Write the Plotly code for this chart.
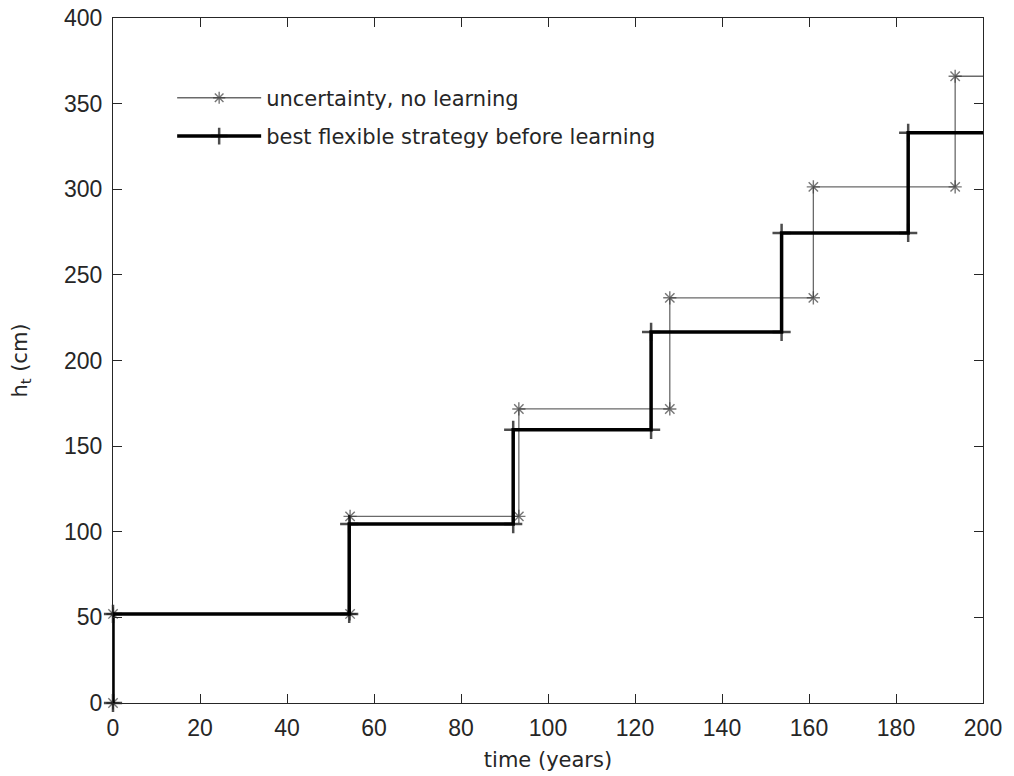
import plotly.graph_objects as go

# --- data ---
# "uncertainty, no learning": heightening times (years) and resulting heights (cm)
unc_times = [0, 54.5, 93.3, 128.0, 161.0, 193.6]
unc_levels = [0, 52.0, 109.0, 171.7, 236.6, 301.4, 366.0]
# "best flexible strategy before learning"
flex_times = [0, 54.3, 92.0, 123.7, 153.7, 182.8]
flex_levels = [0, 52.0, 104.5, 159.5, 216.7, 274.5, 333.0]
horizon = 200

x_ticks = [0, 20, 40, 60, 80, 100, 120, 140, 160, 180, 200]
y_ticks = [0, 50, 100, 150, 200, 250, 300, 350, 400]


def step_vertices(times, levels, end):
    xs, ys = [], []
    for i, t in enumerate(times):
        xs += [t, t]
        ys += [levels[i], levels[i + 1]]
    xs.append(end)
    ys.append(levels[-1])
    return xs, ys


ux, uy = step_vertices(unc_times, unc_levels, horizon)
fx, fy = step_vertices(flex_times, flex_levels, horizon)

TICKFONT = "Liberation Sans, Arial, sans-serif"
TEXTFONT = "DejaVu Sans, sans-serif"
TXT = "#262626"

fig = go.Figure()
fig.add_trace(go.Scatter(
    x=ux, y=uy, mode="lines+markers", name="uncertainty, no learning",
    legendgroup="a",
    line=dict(color="#6a6a6a", width=1.3),
    marker=dict(symbol="asterisk-open", size=[11] * (len(ux) - 1) + [0],
                color="#3c3c3c", line=dict(color="#3c3c3c", width=1.4)),
    cliponaxis=False,
))
fig.add_trace(go.Scatter(
    x=fx, y=fy, mode="lines+markers", name="best flexible strategy before learning",
    legendgroup="b",
    line=dict(color="black", width=3.5),
    marker=dict(symbol="cross-thin-open", size=[13] * (len(fx) - 1) + [0],
                color="black", line=dict(color="black", width=2.5)),
    cliponaxis=False,
))

axis_common = dict(
    showline=True, linecolor="#262626", linewidth=1.3, mirror="ticks",
    ticks="inside", ticklen=9, tickwidth=1.3, tickcolor="#262626",
    showgrid=False, zeroline=False, automargin=False,
    tickfont=dict(family=TICKFONT, size=23, color=TXT),
)

fig.update_layout(
    width=1014, height=776,
    margin=dict(l=113, r=31, t=18, b=73),
    paper_bgcolor="white", plot_bgcolor="white",
    font=dict(family=TEXTFONT, size=21, color=TXT),
    showlegend=True,
    legend=dict(x=0.068, y=0.913, xanchor="left", yanchor="top",
                bgcolor="rgba(0,0,0,0)", borderwidth=0,
                font=dict(family=TEXTFONT, size=21, color=TXT),
                itemwidth=84, tracegroupgap=8),
    xaxis=dict(range=[0, horizon], tickvals=x_ticks, ticklabelstandoff=4,
               title=dict(text="time (years)", standoff=12,
                          font=dict(family=TEXTFONT, size=21, color=TXT)),
               **axis_common),
    yaxis=dict(range=[0, 400], tickvals=y_ticks, ticklabelstandoff=5,
               title=dict(text="h<sub>t</sub> (cm)", standoff=30,
                          font=dict(family=TEXTFONT, size=21, color=TXT)),
               **axis_common),
)

fig.write_html("out.html")
